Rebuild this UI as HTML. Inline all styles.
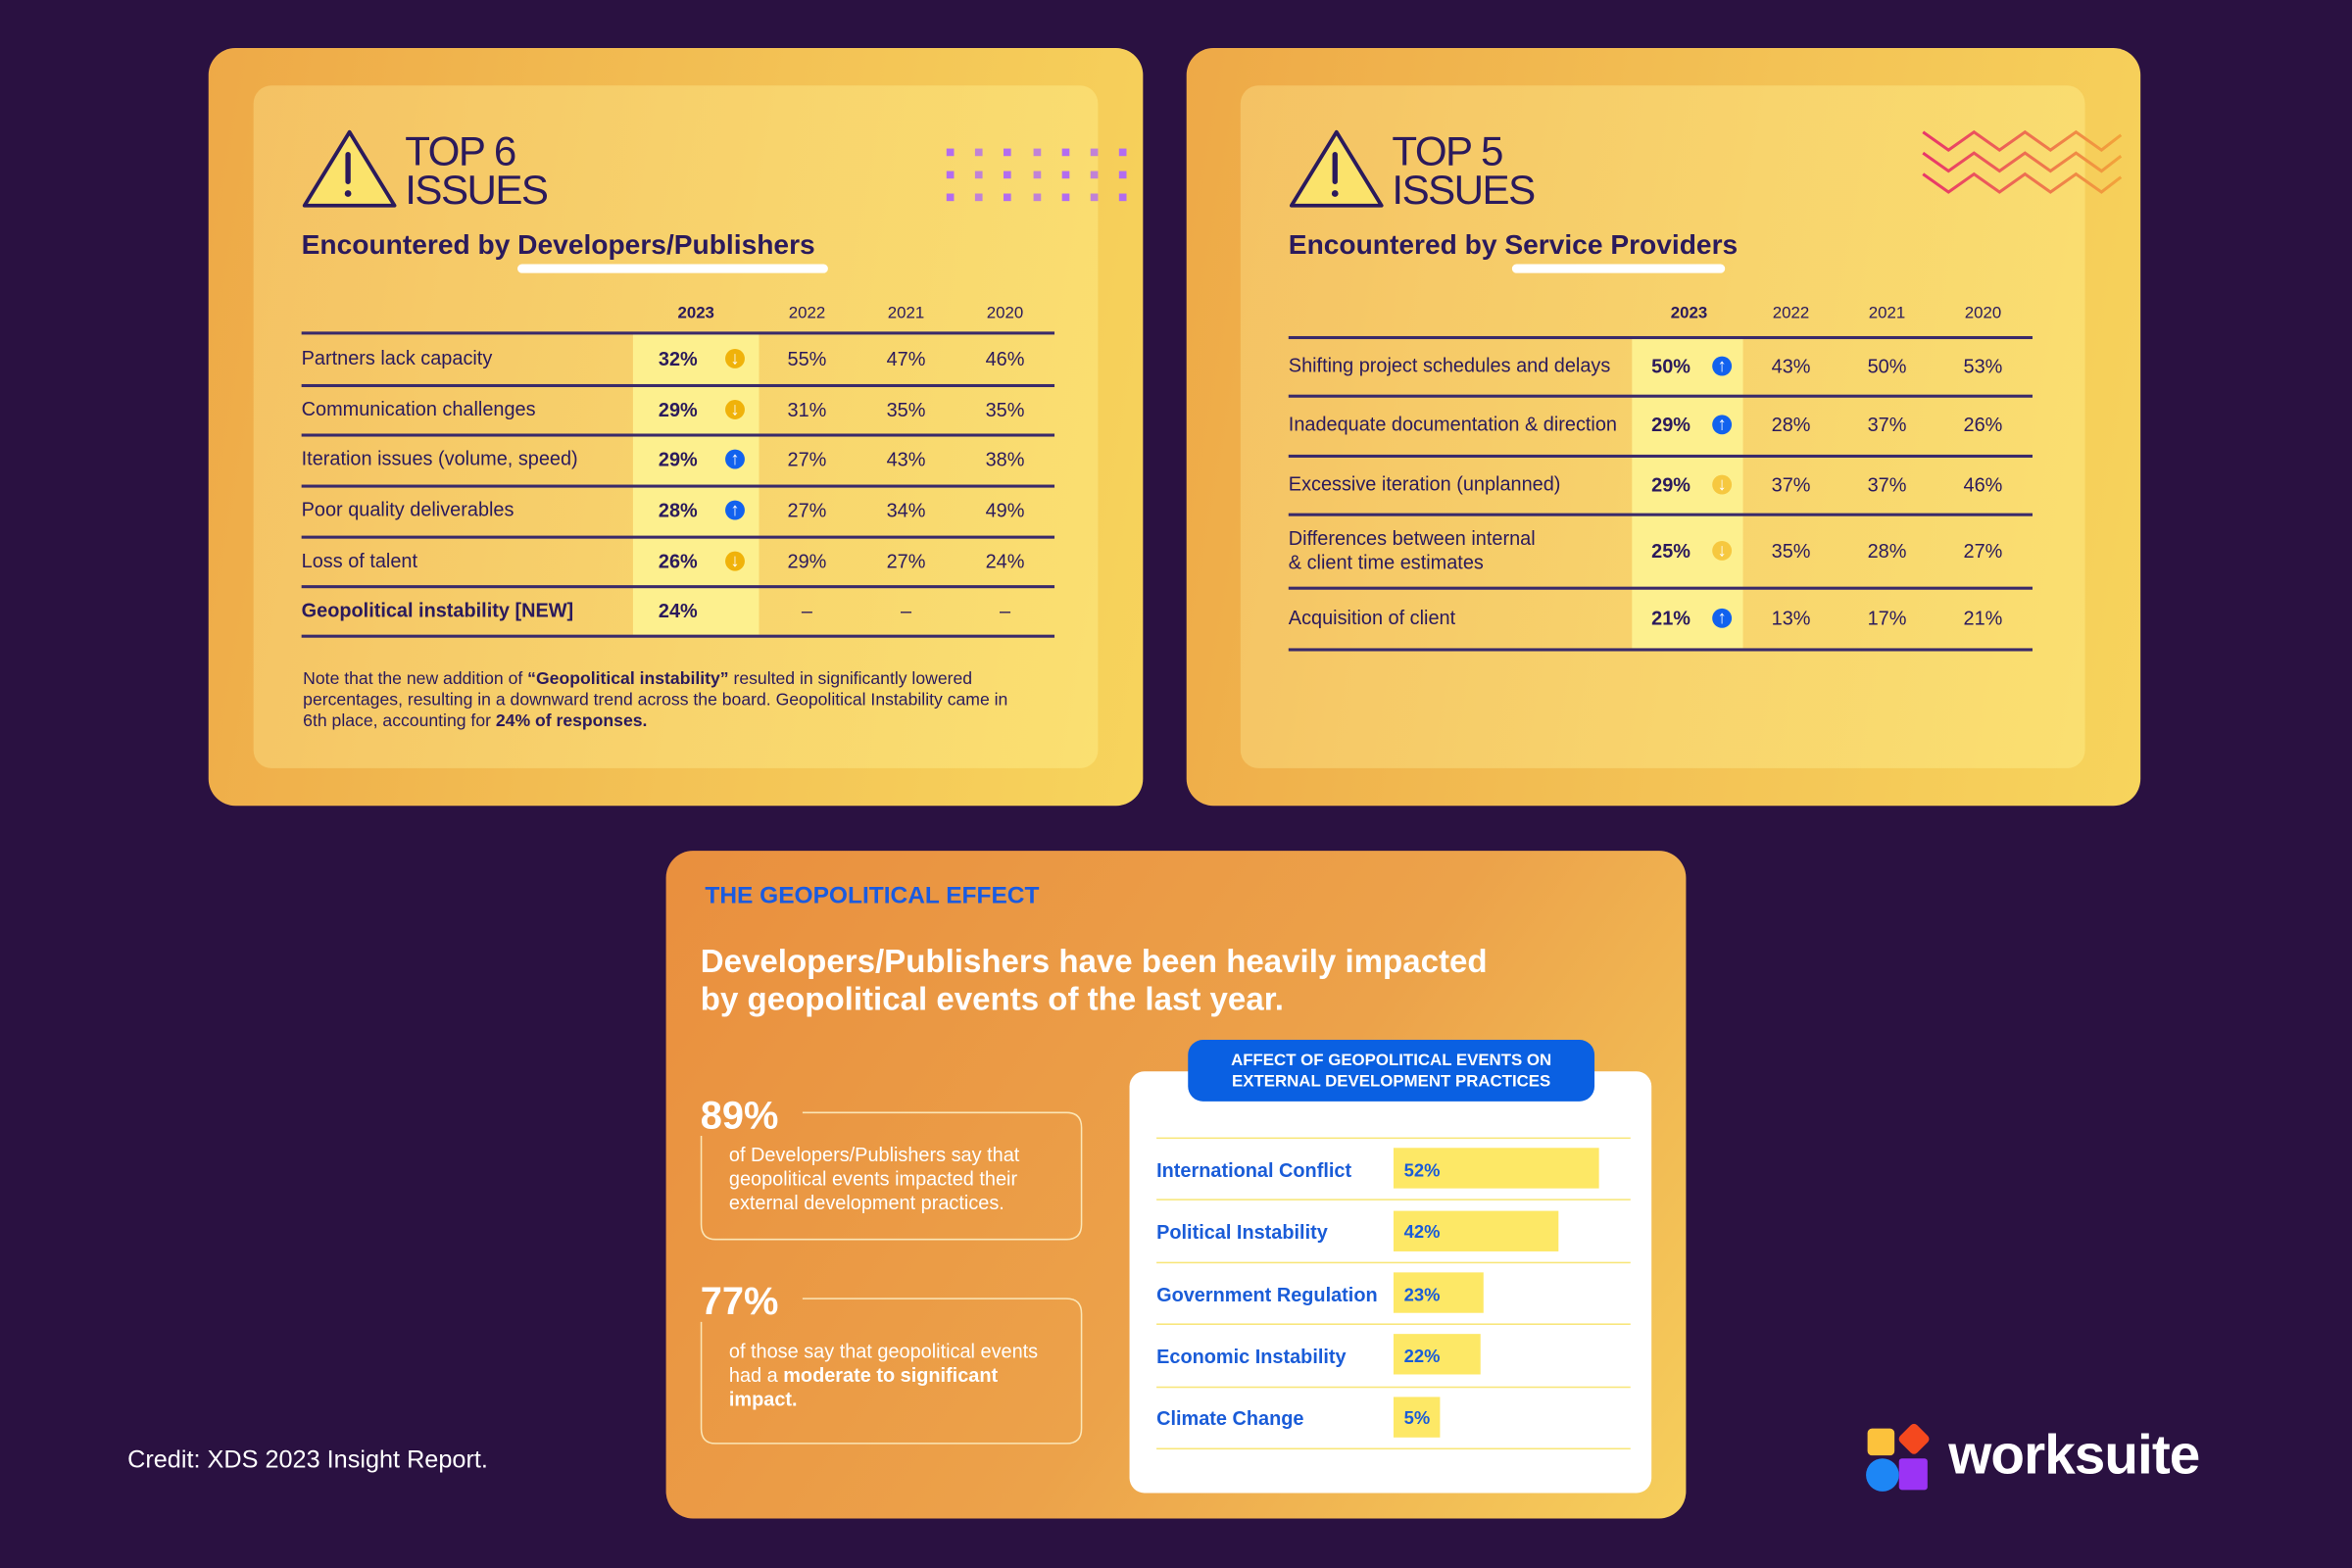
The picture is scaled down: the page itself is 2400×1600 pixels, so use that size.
<!DOCTYPE html>
<html><head><meta charset="utf-8">
<style>
*{margin:0;padding:0;box-sizing:border-box}
html,body{width:2400px;height:1600px;overflow:hidden;background:#2a1141}
#root{position:absolute;left:0;top:0;width:1568px;height:1045px;transform-origin:0 0;transform:scale(1.53061,1.53110);font-family:"Liberation Sans",sans-serif;color:#2b1a5c}
.abs{position:absolute}
.panel{position:absolute;border-radius:18px;background:linear-gradient(100deg,#eea947 0%,#f3c255 55%,#f7d45c 100%)}
.inner{position:absolute;border-radius:12px;background:linear-gradient(100deg,rgba(255,235,150,.35),rgba(255,240,140,.45))}
.t1{position:absolute;font-size:27.5px;line-height:26px;color:#2b1a5c;letter-spacing:-1px}
.sub{position:absolute;font-size:18.4px;font-weight:bold;color:#2b1a5c;white-space:nowrap}
.wbar{position:absolute;height:6px;border-radius:3px;background:#fff}
.cell{position:absolute;font-size:13px;white-space:nowrap;transform:translateY(-50%)}
.c{transform:translate(-50%,-50%)}
.hl{position:absolute;background:#fdf08e}
.line{position:absolute;height:1.5px;background:#3a2a6a}
.arr{position:absolute;width:13px;height:13px;border-radius:50%;transform:translate(-50%,-50%);color:#fff;font-size:12px;line-height:13px;text-align:center;font-weight:bold}
.dot{position:absolute;width:5px;height:5px;background:#b36cf0}
</style></head><body>
<div id="root">

<!-- Panel 1 -->
<div class="panel" style="left:139px;top:32px;width:623px;height:505px"></div>
<div class="inner" style="left:169px;top:57px;width:563px;height:455px"></div>
<svg class="abs" style="left:200px;top:85px" width="66" height="56" viewBox="0 0 66 56"><path d="M33 3 L63 52 H3 Z" fill="#fbe36b" stroke="#2b1a5c" stroke-width="2.5" stroke-linejoin="round"/><line x1="32" y1="18" x2="32" y2="36" stroke="#2b1a5c" stroke-width="3.5" stroke-linecap="round"/><circle cx="32" cy="44" r="2.2" fill="#2b1a5c"/></svg>
<div class="t1" style="left:270px;top:88px">TOP 6<br>ISSUES</div>
<div class="sub" style="left:201px;top:152px">Encountered by Developers/Publishers</div>
<div class="wbar" style="left:345px;top:176px;width:207px"></div>
<div id="dots"></div>
<div id="t1"></div>
<div class="abs" style="left:202px;top:446px;width:488px;font-size:11.5px;line-height:14px;color:#2b1a5c">Note that the new addition of <b>“Geopolitical instability”</b> resulted in significantly lowered percentages, resulting in a downward trend across the board. Geopolitical Instability came in 6th place, accounting for <b>24% of responses.</b></div>

<!-- Panel 2 -->
<div class="panel" style="left:791px;top:32px;width:636px;height:505px"></div>
<div class="inner" style="left:827px;top:57px;width:563px;height:455px"></div>
<svg class="abs" style="left:858px;top:85px" width="66" height="56" viewBox="0 0 66 56"><path d="M33 3 L63 52 H3 Z" fill="#fbe36b" stroke="#2b1a5c" stroke-width="2.5" stroke-linejoin="round"/><line x1="32" y1="18" x2="32" y2="36" stroke="#2b1a5c" stroke-width="3.5" stroke-linecap="round"/><circle cx="32" cy="44" r="2.2" fill="#2b1a5c"/></svg>
<div class="t1" style="left:928px;top:88px">TOP 5<br>ISSUES</div>
<div class="sub" style="left:859px;top:152px">Encountered by Service Providers</div>
<div class="wbar" style="left:1008px;top:176px;width:142px"></div>
<svg class="abs" style="left:1280px;top:84px" width="136" height="50">
<defs><linearGradient id="zg" x1="0" x2="1"><stop offset="0" stop-color="#e8356a"/><stop offset="1" stop-color="#f2a43a"/></linearGradient></defs>
<g fill="none" stroke="url(#zg)" stroke-width="2">
<polyline points="2,4 19,16 36,4 53,16 70,4 87,16 104,4 121,16 134,6"/>
<polyline points="2,18 19,30 36,18 53,30 70,18 87,30 104,18 121,30 134,20"/>
<polyline points="2,32 19,44 36,32 53,44 70,32 87,44 104,32 121,44 134,34"/>
</g></svg>
<div id="t2"></div>

<!-- Panel 3 -->
<div class="panel" style="left:444px;top:567px;width:680px;height:445px;background:linear-gradient(125deg,#e98f3e 0%,#eca24a 55%,#f6cf5c 100%)"></div>
<div class="abs" style="left:470px;top:589px;font-size:16px;font-weight:bold;color:#1a5be0">THE GEOPOLITICAL EFFECT</div>
<div class="abs" style="left:467px;top:628px;font-size:21.6px;line-height:25px;font-weight:bold;color:#fff;white-space:nowrap">Developers/Publishers have been heavily impacted<br>by geopolitical events of the last year.</div>

<svg class="abs" style="left:0;top:0" width="1568" height="1045">
<g fill="none" stroke="#fbe6b6" stroke-width="1">
<path d="M535 741.5 H711 Q721 741.5 721 751.5 V816 Q721 826 711 826 H477 Q467.5 826 467.5 816 V757"/>
<path d="M535 865.5 H711 Q721 865.5 721 875.5 V952 Q721 962 711 962 H477 Q467.5 962 467.5 952 V881"/>
</g></svg>
<div class="abs" style="left:467px;top:728px;font-size:26px;font-weight:bold;color:#fff">89%</div>
<div class="abs" style="left:486px;top:762px;font-size:13px;line-height:16px;color:#fff">of Developers/Publishers say that<br>geopolitical events impacted their<br>external development practices.</div>
<div class="abs" style="left:467px;top:852px;font-size:26px;font-weight:bold;color:#fff">77%</div>
<div class="abs" style="left:486px;top:893px;font-size:13px;line-height:16px;color:#fff">of those say that geopolitical events<br>had a <b>moderate to significant<br>impact.</b></div>

<div class="abs" style="left:753px;top:714px;width:348px;height:281px;background:#fff;border-radius:10px"></div>
<div class="abs" style="left:792px;top:693px;width:271px;height:41px;background:#0a60e2;border-radius:10px;color:#fff;font-size:11px;font-weight:bold;line-height:14px;text-align:center;padding-top:7px">AFFECT OF GEOPOLITICAL EVENTS ON<br>EXTERNAL DEVELOPMENT PRACTICES</div>
<div id="bars"></div>

<div class="abs" style="left:85px;top:964px;font-size:16.5px;color:#fff">Credit: XDS 2023 Insight Report.</div>
<svg class="abs" style="left:1242px;top:948px" width="48" height="48">
<rect x="3" y="4" width="18" height="18" rx="3" fill="#fcc23c"/>
<rect x="26" y="3" width="16" height="16" rx="3" fill="#f4481e" transform="rotate(45 34 11)"/>
<rect x="24" y="24" width="19" height="21" rx="2" fill="#9b33f5"/>
<circle cx="13" cy="35" r="11" fill="#1d86f5"/>
</svg>
<div class="abs" style="left:1299px;top:949px;font-size:37px;font-weight:bold;color:#fff;letter-spacing:-0.6px">worksuite</div>
</div>

<script>
// ---- Developers table data ----
const devIssues = ["Partners lack capacity","Communication challenges","Iteration issues (volume, speed)","Poor quality deliverables","Loss of talent","Geopolitical instability [NEW]"];
const dev2023 = ["32%","29%","29%","28%","26%","24%"];
const devTrend = ["down","down","up","up","down",""];
const dev2022 = ["55%","31%","27%","27%","29%","–"];
const dev2021 = ["47%","35%","43%","34%","27%","–"];
const dev2020 = ["46%","35%","38%","49%","24%","–"];
// ---- Service providers table data ----
const spIssues = ["Shifting project schedules and delays","Inadequate documentation & direction","Excessive iteration (unplanned)","Differences between internal<br>& client time estimates","Acquisition of client"];
const sp2023 = ["50%","29%","29%","25%","21%"];
const spTrend = ["up","up","down","down","up"];
const sp2022 = ["43%","28%","37%","35%","13%"];
const sp2021 = ["50%","37%","37%","28%","17%"];
const sp2020 = ["53%","26%","46%","27%","21%"];
const years = ["2023","2022","2021","2020"];
// ---- Bar chart data ----
const barCategories = ["International Conflict","Political Instability","Government Regulation","Economic Instability","Climate Change"];
const barValues = [52,42,23,22,5];

function mk(parent, cls, name, style, html){
  const el=document.createElement('div');
  el.className=cls;
  
  
  el.style.cssText=style;
  if(html!==undefined) el.innerHTML=html;
  parent.appendChild(el);
  return el;
}

// dots
const dotsEl=document.getElementById('dots');
for(let r=0;r<3;r++)for(let c=0;c<7;c++){
  const d=document.createElement('div');
  d.className='dot';
  
  
  d.style.left=(631+c*19.2)+'px';d.style.top=(99+r*15)+'px';
  d.style.opacity=(c%2?0.8:1);
  dotsEl.appendChild(d);
}

function table(id, cfg){
  const p=document.getElementById(id);
  const n=cfg.issues.length;
  mk(p,'hl','col-2023-highlight',`left:${cfg.hlX}px;top:${cfg.lines[0]}px;width:${cfg.hlW}px;height:${cfg.lines[n]-cfg.lines[0]}px`);
  years.forEach((y,i)=>{
    mk(p,'cell c','year-header',`left:${cfg.cols[i]}px;top:${cfg.headY}px;font-size:11px;${i===0?'font-weight:bold':''}`,y);
  });
  for(let k=0;k<=n;k++) mk(p,'line','row-divider',`left:${cfg.x0}px;top:${cfg.lines[k]}px;width:${cfg.x1-cfg.x0}px`);
  for(let r=0;r<n;r++){
    const cy=(cfg.lines[r]+cfg.lines[r+1])/2+cfg.dy;
    const bold = cfg.boldLast && r===n-1;
    mk(p,'cell','issue-label',`left:${cfg.x0}px;top:${cy}px;line-height:16px;${bold?'font-weight:bold':''}`,cfg.issues[r]);
    mk(p,'cell c','value-2023',`left:${cfg.cols[0]-12}px;top:${cy}px;font-weight:bold`,cfg.v23[r]);
    const t=cfg.trend[r];
    if(t){
      mk(p,'arr',t==='up'?'trend-up-icon':'trend-down-icon',`left:${cfg.arrX}px;top:${cy}px;background:${t==='up'?'#1262ee':cfg.downCol}`,t==='up'?'↑':'↓');
    }
    [cfg.v22,cfg.v21,cfg.v20].forEach((arr,i)=>mk(p,'cell c','value-cell',`left:${cfg.cols[i+1]}px;top:${cy}px`,arr[r]));
  }
}
table('t1',{issues:devIssues,v23:dev2023,trend:devTrend,v22:dev2022,v21:dev2021,v20:dev2020,
  lines:[221,256,289,323,357,390,423],x0:201,x1:703,hlX:422,hlW:84,cols:[464,538,604,670],headY:209,arrX:490,dy:0,boldLast:true,downCol:'#f0b20a'});
table('t2',{issues:spIssues,v23:sp2023,trend:spTrend,v22:sp2022,v21:sp2021,v20:sp2020,
  lines:[224,263,303,342,391,432],x0:859,x1:1355,hlX:1088,hlW:74,cols:[1126,1194,1258,1322],headY:209,arrX:1148,dy:0,boldLast:false,downCol:'#f6c840'});

// bar chart
const bars=document.getElementById('bars');
const rowTop=758, rowH=41.4, barX=929, pxPer=2.63, minW=31;
const xScale=v=>Math.max(v*pxPer,minW);
for(let i=0;i<=barCategories.length;i++){
  mk(bars,'abs','bar-row-divider',`left:771px;top:${rowTop+i*rowH}px;width:316px;height:1px;background:#f8e678`);
}
barCategories.forEach((c,i)=>{
  const cy=rowTop+i*rowH+rowH/2;
  mk(bars,'cell','bar-label',`left:771px;top:${cy+1}px;color:#1a5cd8;font-size:13px;font-weight:bold`,c);
  mk(bars,'abs','bar-'+c.toLowerCase().replace(/ /g,'-'),`left:${barX}px;top:${cy-13.5}px;width:${xScale(barValues[i])}px;height:27px;background:#fde866`);
  mk(bars,'cell','bar-value',`left:${barX+7}px;top:${cy+1}px;color:#1a5cd8;font-size:12px;font-weight:bold`,barValues[i]+'%');
});
</script>
</body></html>
